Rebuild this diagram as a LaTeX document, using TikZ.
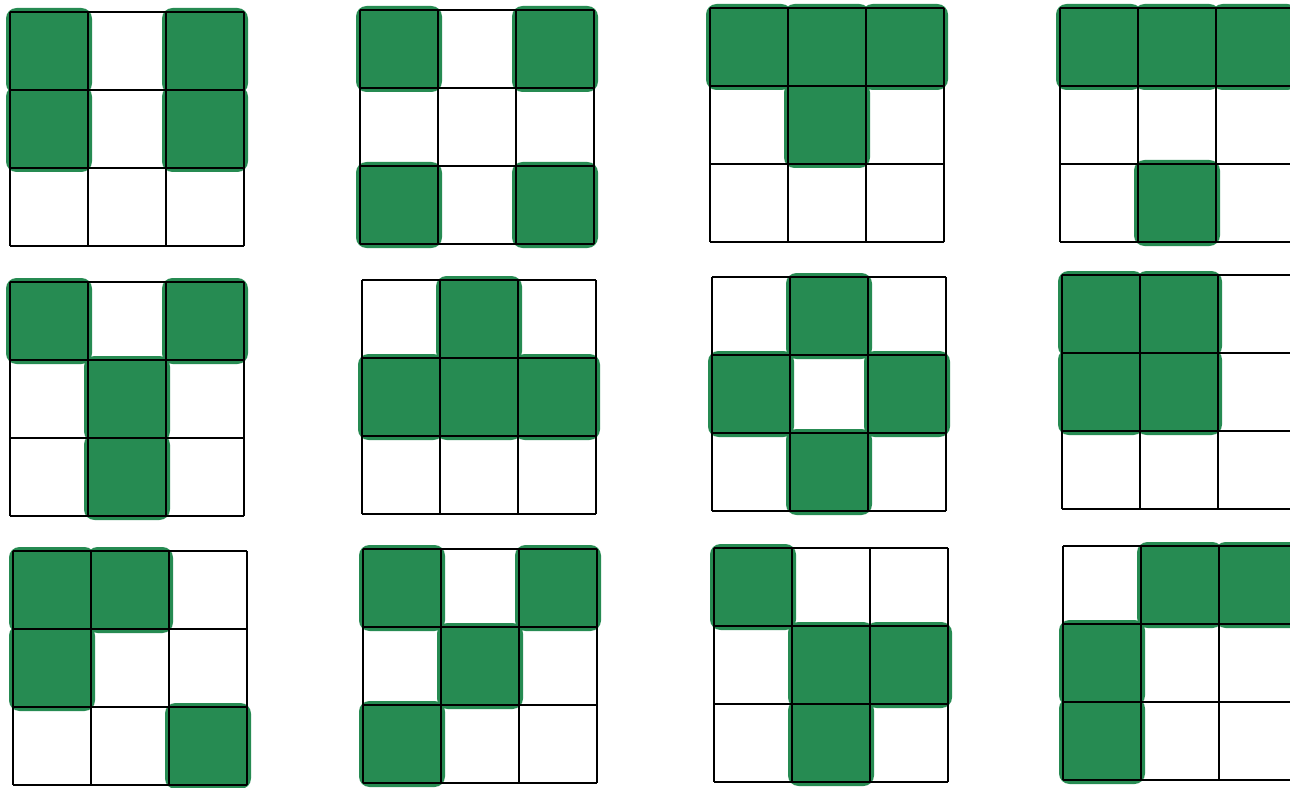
\documentclass[tikz,border=0pt]{standalone}
\definecolor{marker}{RGB}{38,139,82}
\tikzset{cellfill/.style={fill=marker, rounded corners=6}}
\begin{document}
\begin{tikzpicture}[x=0.02cm, y=-0.02cm, line width=0.7pt]
  \clip (0,0) rectangle (1290,787);
  \fill[white] (0,0) rectangle (1290,787);
  \foreach \ox/\oy/\cells in {
      10/12/{1/1,3/1,1/2,3/2}, 360/10/{1/1,3/1,1/3,3/3},
      710/8/{1/1,2/1,3/1,2/2}, 1060/8/{1/1,2/1,3/1,2/3},
      10/282/{1/1,3/1,2/2,2/3}, 362/280/{2/1,1/2,2/2,3/2},
      712/277/{2/1,1/2,3/2,2/3}, 1062/275/{1/1,2/1,1/2,2/2},
      13/551/{1/1,2/1,1/2,3/3}, 363/549/{1/1,3/1,2/2,1/3},
      714/548/{1/1,2/2,3/2,2/3}, 1063/546/{2/1,3/1,1/2,1/3}} {
    \fill[cellfill, nonzero rule] \foreach \c/\r in \cells {
      (\ox+78*\c-82,\oy+78*\r-82) rectangle ++(86,86)};
    \foreach \k in {0,...,3} {
      \draw (\ox+78*\k,\oy) -- ++(0,234);
      \draw (\ox,\oy+78*\k) -- ++(234,0);
    }
  }
\end{tikzpicture}
\end{document}
